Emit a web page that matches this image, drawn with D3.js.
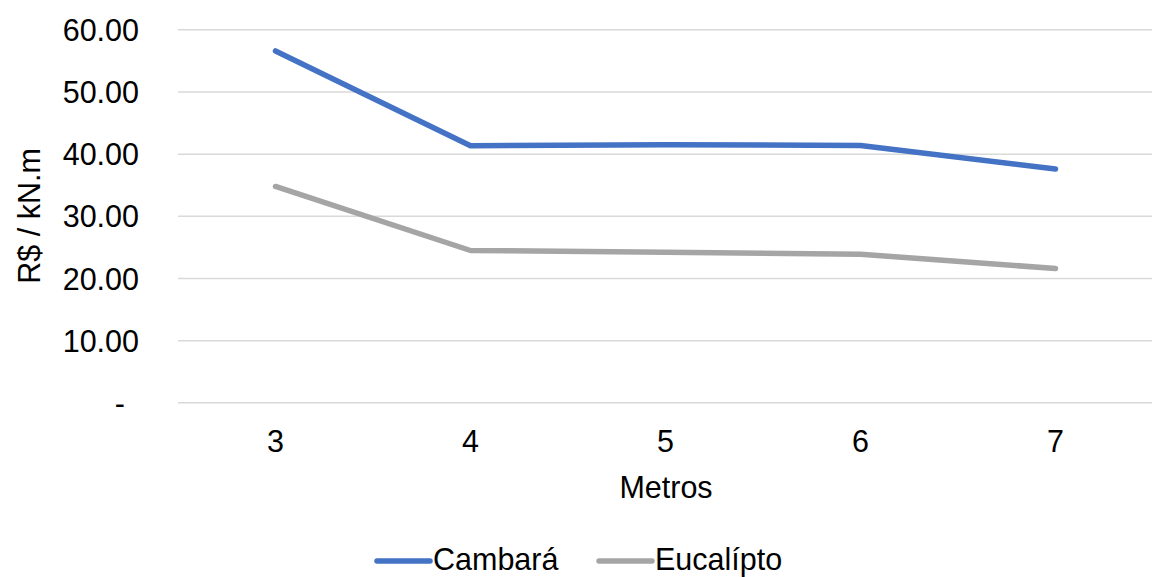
<!DOCTYPE html>
<html><head><meta charset="utf-8">
<script src="https://cdn.jsdelivr.net/npm/d3@7"></script>
<style>body{margin:0;background:#fff}svg{display:block}text{font-family:"Liberation Sans",Arial,sans-serif;fill:#000}</style>
</head><body><svg id="c" width="1152" height="577"></svg>
<script>
const categories = ["3","4","5","6","7"];
const cambara = [56.6, 41.35, 41.5, 41.4, 37.6];
const eucalipto = [34.8, 24.5, 24.2, 23.9, 21.6];
const seriesNames = ["Cambará","Eucalípto"];
const seriesColors = ["#4472C4","#A5A5A5"];
const yTicks = [0,10,20,30,40,50,60];

const svg = d3.select("#c");
const L = 178, R = 1153, T = 29.8, B = 402.8;
const x = d3.scaleBand().domain(categories).range([L,R]);
const y = d3.scaleLinear().domain([0,60]).range([B,T]);
const fs = 30.5;

svg.append("g").selectAll("line").data(yTicks).join("line")
  .attr("x1",L).attr("x2",R).attr("y1",d=>y(d)).attr("y2",d=>y(d))
  .attr("stroke","#D9D9D9").attr("stroke-width",1.5);

const yAxis = d3.axisLeft(y).tickValues(yTicks).tickSize(0).tickPadding(0)
  .tickFormat(d=> d===0 ? "-" : d3.format(".2f")(d));
const ga = svg.append("g").attr("transform",`translate(139,0)`).call(yAxis);
ga.select(".domain").remove();
ga.selectAll("text").attr("font-size",fs).attr("font-family","Liberation Sans, Arial").attr("fill","#000")
  .attr("dy","0.35em").attr("dx", d=> d===0 ? -14 : 0);

const xAxis = d3.axisBottom(x).tickSize(0).tickPadding(0);
const gx = svg.append("g").attr("transform",`translate(0,${B+28})`).call(xAxis);
gx.select(".domain").remove();
gx.selectAll("text").attr("font-size",fs).attr("font-family","Liberation Sans, Arial").attr("fill","#000").attr("dy","0.71em");

svg.append("text").attr("x",666).attr("y",498).attr("text-anchor","middle").attr("font-size",fs).text("Metros");
svg.append("text").attr("transform","translate(40,216) rotate(-90)").attr("text-anchor","middle").attr("font-size",fs).text("R$ / kN.m");

const line = d3.line().x((d,i)=>x(categories[i])+x.bandwidth()/2).y(d=>y(d));
[cambara, eucalipto].forEach((s,k)=>{
  svg.append("path").datum(s).attr("d",line).attr("fill","none")
    .attr("stroke",seriesColors[k]).attr("stroke-width",5.5)
    .attr("stroke-linecap","round").attr("stroke-linejoin","round");
});

const leg = [{x:377},{x:599}];
seriesNames.forEach((n,k)=>{
  const lx = leg[k].x;
  svg.append("line").attr("x1",lx).attr("x2",lx+53).attr("y1",561).attr("y2",561)
    .attr("stroke",seriesColors[k]).attr("stroke-width",5.5).attr("stroke-linecap","round");
  svg.append("text").attr("x",lx+56).attr("y",570).attr("font-size",fs).text(n);
});
</script></body></html>
